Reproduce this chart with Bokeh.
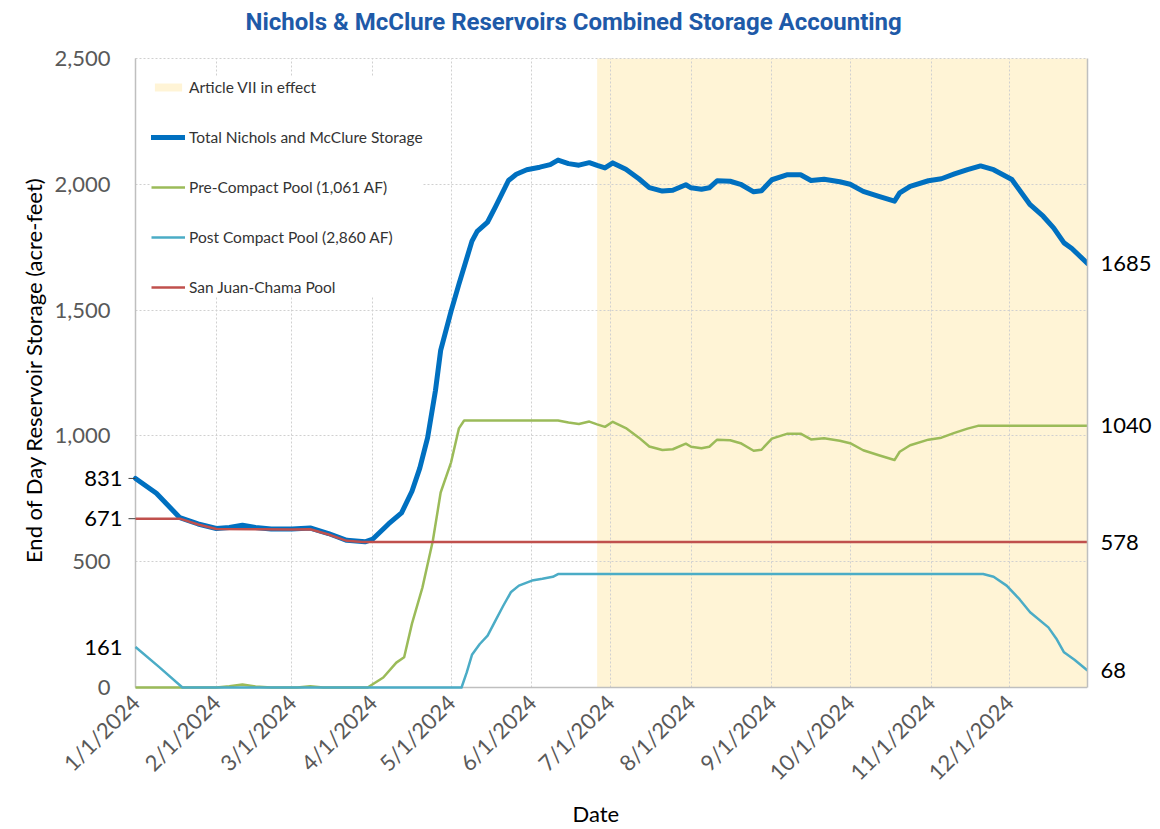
import pandas as pd
from bokeh.plotting import figure
from bokeh.models import (LinearAxis, FixedTicker, Range1d, Legend, LegendItem, Title)
from bokeh.core.properties import value
from bokeh.embed import file_html
from bokeh.resources import INLINE
from math import pi

FONT = "Lato"

# ---------------- data ----------------
total_dates = ["2024-01-01", "2024-01-09", "2024-01-18", "2024-01-25", "2024-02-01", "2024-02-06",
               "2024-02-11", "2024-02-16", "2024-02-22", "2024-03-01", "2024-03-08", "2024-03-15",
               "2024-03-22", "2024-03-29", "2024-04-01", "2024-04-07", "2024-04-12", "2024-04-16",
               "2024-04-19", "2024-04-22", "2024-04-25", "2024-04-27", "2024-05-01", "2024-05-04",
               "2024-05-09", "2024-05-11", "2024-05-15", "2024-05-18", "2024-05-23", "2024-05-26",
               "2024-05-30", "2024-06-04", "2024-06-08", "2024-06-11", "2024-06-15", "2024-06-19",
               "2024-06-23", "2024-06-26", "2024-06-29", "2024-07-02", "2024-07-07", "2024-07-12",
               "2024-07-16", "2024-07-21", "2024-07-25", "2024-07-30", "2024-08-01", "2024-08-05",
               "2024-08-08", "2024-08-11", "2024-08-16", "2024-08-20", "2024-08-25", "2024-08-28",
               "2024-09-01", "2024-09-07", "2024-09-12", "2024-09-16", "2024-09-21", "2024-09-27",
               "2024-10-01", "2024-10-06", "2024-10-12", "2024-10-18", "2024-10-20", "2024-10-24",
               "2024-10-31", "2024-11-05", "2024-11-10", "2024-11-15", "2024-11-20", "2024-11-25",
               "2024-12-02", "2024-12-09", "2024-12-14", "2024-12-18", "2024-12-22", "2024-12-25",
               "2024-12-31"]
total_vals = [831, 772, 675, 650, 632, 636,
              645, 636, 630, 630, 634, 612,
              585, 579, 590, 650, 694, 780,
              872, 993, 1180, 1340, 1496, 1603,
              1774, 1813, 1850, 1910, 2015, 2040,
              2058, 2068, 2078, 2096, 2082, 2076,
              2086, 2075, 2065, 2085, 2060, 2022,
              1987, 1973, 1976, 1998, 1986, 1980,
              1986, 2014, 2012, 2000, 1970, 1974,
              2018, 2038, 2038, 2015, 2020, 2010,
              2000, 1972, 1952, 1933, 1966, 1992,
              2014, 2022, 2041, 2058, 2073, 2058,
              2019, 1919, 1873, 1827, 1767, 1745,
              1685]

pre_dates = ["2024-01-01", "2024-02-01", "2024-02-06", "2024-02-11", "2024-02-16", "2024-02-22",
             "2024-03-03", "2024-03-08", "2024-03-13", "2024-03-30", "2024-04-05", "2024-04-10",
             "2024-04-13", "2024-04-16", "2024-04-20", "2024-04-24", "2024-04-27", "2024-05-01",
             "2024-05-04", "2024-05-06", "2024-06-11", "2024-06-15", "2024-06-19", "2024-06-23",
             "2024-06-26", "2024-06-29", "2024-07-02", "2024-07-07", "2024-07-12", "2024-07-16",
             "2024-07-21", "2024-07-25", "2024-07-30", "2024-08-01", "2024-08-05", "2024-08-08",
             "2024-08-11", "2024-08-16", "2024-08-20", "2024-08-25", "2024-08-28", "2024-09-01",
             "2024-09-07", "2024-09-12", "2024-09-16", "2024-09-21", "2024-09-27", "2024-10-01",
             "2024-10-06", "2024-10-12", "2024-10-18", "2024-10-20", "2024-10-24", "2024-10-31",
             "2024-11-05", "2024-11-10", "2024-11-15", "2024-11-19", "2024-12-31"]
pre_vals = [0, 0, 5, 12, 4, 0,
            0, 5, 0, 0, 40, 99,
            120, 254, 397, 583, 775, 895,
            1030, 1061, 1061, 1053, 1047, 1057,
            1046, 1036, 1056, 1031, 993, 958,
            944, 947, 969, 957, 951, 957,
            985, 983, 971, 941, 945, 989,
            1009, 1009, 986, 991, 981, 971,
            943, 923, 904, 937, 963, 985,
            993, 1012, 1029, 1040, 1040]

post_dates = ["2024-01-01", "2024-01-10", "2024-01-19", "2024-05-05", "2024-05-07", "2024-05-09",
              "2024-05-12", "2024-05-15", "2024-05-18", "2024-05-21", "2024-05-24", "2024-05-27",
              "2024-06-01", "2024-06-05", "2024-06-09", "2024-06-11", "2024-11-21", "2024-11-25",
              "2024-11-30", "2024-12-05", "2024-12-09", "2024-12-16", "2024-12-19", "2024-12-22",
              "2024-12-26", "2024-12-31"]
post_vals = [161, 82, 0, 0, 60, 130,
             173, 206, 266, 325, 380, 405,
             425, 432, 440, 451, 451, 440,
             405, 350, 299, 239, 195, 140,
             110, 68]

sjc_dates = ["2024-01-01", "2024-01-18", "2024-01-25", "2024-02-01", "2024-03-01", "2024-03-08",
             "2024-03-15", "2024-03-22", "2024-03-28", "2024-12-31"]
sjc_vals = [671, 671, 648, 630, 628, 629,
            608, 583, 578, 578]

article_vii_start = "2024-06-26"
article_vii_end = "2024-12-31"

month_ticks = ["2024-01-01", "2024-02-01", "2024-03-01", "2024-04-01", "2024-05-01", "2024-06-01",
               "2024-07-01", "2024-08-01", "2024-09-01", "2024-10-01", "2024-11-01", "2024-12-01"]
month_labels = ["1/1/2024", "2/1/2024", "3/1/2024", "4/1/2024", "5/1/2024", "6/1/2024",
                "7/1/2024", "8/1/2024", "9/1/2024", "10/1/2024", "11/1/2024", "12/1/2024"]
y_ticks = [0, 500, 1000, 1500, 2000, 2500]
y_tick_labels = ["0", "500", "1,000", "1,500", "2,000", "2,500"]

series_names = ["Total Nichols and McClure Storage", "Pre-Compact Pool (1,061 AF)",
                "Post Compact Pool (2,860 AF)", "San Juan-Chama Pool"]
shade_name = "Article VII in effect"

# ---------------- layout geometry (pixels) ----------------
W, H = 1160, 829
FRAME_LEFT, AXIS_LEFT, FRAME_RIGHT = 49, 135, 1087
FRAME_TOP, GRID_TOP, GRID_BOTTOM, FRAME_BOTTOM = 40, 57, 687, 698
AXIS_GREY = "#BFBFBF"


def ts(s):
    return pd.Timestamp(s)


def ms(s):
    return pd.Timestamp(s).value // 10**6


x_start, x_end = ts(total_dates[0]), ts(total_dates[-1])
lead = (x_end - x_start) * ((AXIS_LEFT - FRAME_LEFT) / (FRAME_RIGHT - AXIS_LEFT))
y_unit = (y_ticks[-1] - y_ticks[0]) / (GRID_BOTTOM - GRID_TOP)
y_pad_top = (GRID_TOP - FRAME_TOP) * y_unit
y_pad_bottom = (FRAME_BOTTOM - GRID_BOTTOM) * y_unit

p = figure(width=W, height=H, x_axis_type="datetime",
           x_range=Range1d(x_start - lead, x_end),
           y_range=Range1d(y_ticks[0] - y_pad_bottom, y_ticks[-1] + y_pad_top),
           output_backend="svg", toolbar_location=None,
           min_border_left=FRAME_LEFT, min_border_right=W - FRAME_RIGHT,
           min_border_top=FRAME_TOP, min_border_bottom=H - FRAME_BOTTOM)

p.title.text = "Nichols & McClure Reservoirs Combined Storage Accounting"
p.title.text_font = "Roboto"
p.title.text_font_style = "bold"
p.title.text_font_size = "24px"
p.title.text_color = "#1E5AA8"
p.title.align = "left"
p.title.offset = 196
p.title.standoff = 11

p.outline_line_color = None
p.background_fill_color = "white"
p.border_fill_color = "white"

# shading
shade = p.varea(x=[ts(article_vii_start), ts(article_vii_end)],
                y1=[y_ticks[0], y_ticks[0]], y2=[y_ticks[-1], y_ticks[-1]],
                fill_color="#FFF4D6", level="image")

# axis lines (left at the first date, bottom at zero)
p.segment(x0=[x_start, x_start], y0=[y_ticks[0], y_ticks[0]],
          x1=[x_start, x_end], y1=[y_ticks[-1], y_ticks[0]],
          line_color=AXIS_GREY, line_width=1.5)

r_total = p.line([ts(d) for d in total_dates], total_vals, line_color="#0070C0",
                 line_width=5, line_join="round", line_cap="round")
r_pre = p.line([ts(d) for d in pre_dates], pre_vals, line_color="#9BBB59",
               line_width=2.5, line_join="round")
r_post = p.line([ts(d) for d in post_dates], post_vals, line_color="#4BACC6",
                line_width=2.5, line_join="round")
r_sjc = p.line([ts(d) for d in sjc_dates], sjc_vals, line_color="#C0504D",
               line_width=2.5, line_join="round")

# grids
p.xgrid[0].ticker = FixedTicker(ticks=[ms(t) for t in month_ticks])
p.ygrid[0].ticker = FixedTicker(ticks=y_ticks)
for g in (p.xgrid[0], p.ygrid[0]):
    g.grid_line_color = "#D0D0D0"
    g.grid_line_dash = "2 2"
    g.grid_line_width = 1
try:
    p.ygrid[0].cross_bounds = (ms(total_dates[0]), ms(total_dates[-1]))
    p.xgrid[0].cross_bounds = (y_ticks[0], y_ticks[-1])
except Exception:
    pass

# x axis
xa = p.xaxis[0]
xa.ticker = FixedTicker(ticks=[ms(t) for t in month_ticks])
xa.major_label_overrides = {ms(t): lab for t, lab in zip(month_ticks, month_labels)}
xa.bounds = (ms(total_dates[0]), ms(total_dates[-1]))
xa.major_label_orientation = pi / 4
xa.major_label_text_font = FONT
xa.major_label_text_font_size = "22px"
xa.major_label_text_color = "#595959"
xa.major_label_standoff = 0
xa.major_tick_line_color = None
xa.major_tick_in = 0
xa.major_tick_out = 0
xa.minor_tick_line_color = None
xa.axis_line_color = None

p.add_layout(Title(text="Date", align="left", offset=523, text_font=FONT,
                   text_font_size="22px", text_font_style="normal", text_color="black",
                   standoff=0), "below")

# left axis: only the title; its tick labels are drawn as text next to the axis line
ya = p.yaxis[0]
ya.ticker = FixedTicker(ticks=[])
ya.major_label_standoff = 0
ya.major_tick_line_color = None
ya.major_tick_in = 0
ya.major_tick_out = 0
ya.minor_tick_line_color = None
ya.axis_line_color = None
ya.axis_label = "End of Day Reservoir Storage (acre-feet)"
ya.axis_label_text_font = FONT
ya.axis_label_text_font_size = "22px"
ya.axis_label_text_font_style = "normal"
ya.axis_label_text_color = "black"
ya.axis_label_standoff = 3

p.text(x=[x_start] * len(y_ticks), y=y_ticks, text=y_tick_labels, x_offset=-25,
       text_align="right", text_baseline="middle", text_font=value(FONT),
       text_font_size="22px", text_color="#595959")

start_vals = [total_vals[0], sjc_vals[0], post_vals[0]]
p.text(x=[x_start] * len(start_vals), y=start_vals, text=[str(v) for v in start_vals],
       x_offset=-13, text_align="right", text_baseline="middle", text_font=value(FONT),
       text_font_size="22px", text_color="black")
p.ray(x=[x_start, x_start], y=[total_vals[0], sjc_vals[0]], length=7, length_units="screen",
      angle=pi, line_color="#404040", line_width=1)

# right axis with end values
end_vals = [post_vals[-1], sjc_vals[-1], pre_vals[-1], total_vals[-1]]
ra = LinearAxis(ticker=FixedTicker(ticks=end_vals), bounds=(y_ticks[0], y_ticks[-1]))
ra.major_label_text_font = FONT
ra.major_label_text_font_size = "22px"
ra.major_label_text_color = "black"
ra.major_label_standoff = 13
ra.major_tick_line_color = None
ra.major_tick_in = 0
ra.major_tick_out = 0
ra.minor_tick_line_color = None
ra.axis_line_color = AXIS_GREY
ra.axis_line_width = 1.5
p.add_layout(ra, "right")

# legend
legend = Legend(items=[LegendItem(label=shade_name, renderers=[shade]),
                       LegendItem(label=series_names[0], renderers=[r_total]),
                       LegendItem(label=series_names[1], renderers=[r_pre]),
                       LegendItem(label=series_names[2], renderers=[r_post]),
                       LegendItem(label=series_names[3], renderers=[r_sjc])],
                location=(102, 401))
legend.margin = 0
legend.padding = 9
legend.spacing = 30
legend.glyph_width = 34
legend.glyph_height = 10
legend.label_height = 20
legend.label_standoff = 4
legend.label_text_font = FONT
legend.label_text_font_size = "15.5px"
legend.label_text_color = "#333333"
legend.border_line_color = None
legend.background_fill_color = "white"
legend.background_fill_alpha = 1
p.add_layout(legend)

open("out.html", "w").write(file_html(p, INLINE))
